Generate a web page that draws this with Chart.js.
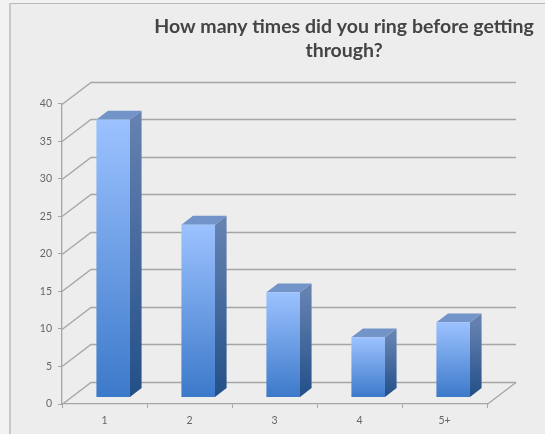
<!DOCTYPE html>
<html><head><meta charset="utf-8">
<style>html,body{margin:0;padding:0;background:#fff}#w{position:absolute;left:0;top:0;width:545px;height:434px}</style>
<script src="https://cdn.jsdelivr.net/npm/chart.js@4"></script>
</head><body><div id="w"><canvas id="c"></canvas></div>
<script>
const categories = ['1','2','3','4','5+'];
const responses = [37,23,14,8,10];
const titleLines = ['How many times did you ring before getting','through?'];
const yMax = 40, yStep = 5;

const DX = 29, DY = 22;            // floor depth
const BAR_NEAR = 0.3, BAR_FAR = 0.7;

function lg(ctx,y0,y1,a,b){const g=ctx.createLinearGradient(0,y0,0,y1);g.addColorStop(0,a);g.addColorStop(1,b);return g;}

const scene = {
  id:'scene',
  beforeDraw(chart){
    const c=chart.ctx;
    c.save();
    c.fillStyle='#f2f2f2';c.fillRect(0,0,545,434);
    c.fillStyle='#ededed';c.fillRect(10,3,535,431);
    c.fillStyle='#b8b8b8';c.fillRect(10,3,535,1);
    c.fillStyle='#c8c8c8';c.fillRect(9,3,2,431);
    c.restore();
  },
  afterLayout(chart){
    chart.titleBlock.left=153; chart.titleBlock.right=535;
  },
  beforeDatasetsDraw(chart){
    const c=chart.ctx,y=chart.scales.y,a=chart.chartArea;
    c.save();
    c.strokeStyle='#a6a6a6';c.lineWidth=1.3;
    y.ticks.forEach(t=>{
      const p=Math.round(y.getPixelForValue(t.value))+.5;
      c.beginPath();c.moveTo(a.left,p);c.lineTo(a.left+DX,p-DY);c.lineTo(a.right+DX,p-DY);c.stroke();
    });
    const p0=Math.round(y.getPixelForValue(0))+.5;
    c.beginPath();c.moveTo(a.right,p0);c.lineTo(a.right+DX,p0-DY);c.stroke();
    // side and top faces of each bar
    const nx=DX*BAR_NEAR,ny=DY*BAR_NEAR,dx=DX*(BAR_FAR-BAR_NEAR),dy=DY*(BAR_FAR-BAR_NEAR);
    chart.getDatasetMeta(0).data.forEach(b=>{
      const l=b.x-b.width/2+nx,r=b.x+b.width/2+nx,t=b.y-ny,bt=b.base-ny;
      c.fillStyle=lg(c,t,bt,'#6481b0','#234f88');
      c.beginPath();c.moveTo(r,t);c.lineTo(r+dx,t-dy);c.lineTo(r+dx,bt-dy);c.lineTo(r,bt);c.closePath();c.fill();
      c.fillStyle='#7394c9';
      c.beginPath();c.moveTo(l,t);c.lineTo(l+dx,t-dy);c.lineTo(r+dx,t-dy);c.lineTo(r,t);c.closePath();c.fill();
    });
    c.restore();
    c.save();
    c.translate(nx,-ny);
  },
  afterDatasetsDraw(chart){chart.ctx.restore();}
};

new Chart(document.getElementById('c'),{
  type:'bar',
  data:{labels:categories,datasets:[{
    data:responses,
    clip:false,
    barPercentage:0.395,categoryPercentage:1,
    borderWidth:0,
    backgroundColor(ctx){
      const ch=ctx.chart,ys=ch.scales.y;
      if(ctx.raw===undefined||!ys) return '#6f9fe0';
      const y0=ys.getPixelForValue(ctx.raw),y1=ys.getPixelForValue(0);
      if(!Number.isFinite(y0)||!Number.isFinite(y1)) return '#6f9fe0';
      return lg(ch.ctx,y0,y1,'#9cc2ff','#3c79c9');
    }
  }]},
  plugins:[scene],
  options:{
    responsive:true,maintainAspectRatio:false,animation:false,
    layout:{padding:{left:0,right:58,top:0,bottom:0}},
    plugins:{
      legend:{display:false},tooltip:{enabled:false},
      title:{display:true,text:titleLines,color:'#444444',
        font:{family:'Lato',size:19.5,weight:'bold',lineHeight:1.22},
        padding:{top:15,bottom:41}}
    },
    scales:{
      x:{offset:true,
        grid:{display:true,offset:true,drawOnChartArea:false,drawTicks:true,tickLength:4,color:'#a6a6a6'},
        border:{color:'#a6a6a6',width:1.3},
        ticks:{color:'#666666',font:{family:'Lato',size:10.5},padding:6,maxRotation:0},
        afterFit(s){s.height=30;}},
      y:{min:0,max:yMax,
        grid:{drawOnChartArea:false,drawTicks:true,tickLength:4,color:'#a6a6a6'},
        border:{color:'#a6a6a6',width:1.3},
        ticks:{stepSize:yStep,color:'#666666',font:{family:'Lato',size:10.5},padding:6},
        afterFit(s){s.width=62;}}
    }
  }
});
</script></body></html>
